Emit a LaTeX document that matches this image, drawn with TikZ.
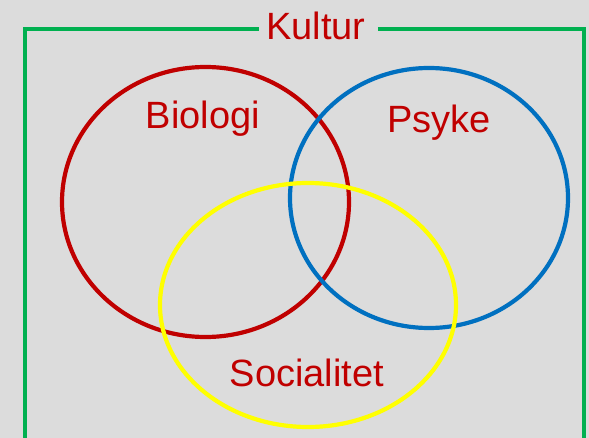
\documentclass[tikz,border=0pt]{standalone}
\usepackage{fontspec}
\setmainfont{Liberation Sans}
\usetikzlibrary{shapes.geometric}
\definecolor{bg}{HTML}{DCDCDC}
\definecolor{kred}{HTML}{C00000}
\definecolor{kblue}{HTML}{0070C0}
\definecolor{kyellow}{HTML}{FFFF00}
\definecolor{kgreen}{HTML}{00B050}
\tikzset{
  ring/.style={ellipse, draw, line width=4.2pt, inner sep=0pt, minimum width=#1},
  lbl/.style={text=kred, anchor=base, inner sep=0pt, font=\fontsize{38}{41}\selectfont},
  frame/.style={draw=kgreen, line width=3.3pt}
}
\begin{document}
\begin{tikzpicture}[x=1pt,y=-1pt]
\fill[bg] (0,0) rectangle (589,438);
\useasboundingbox (0,0) rectangle (589,438);
\node[ring=287pt, minimum height=270pt, draw=kred] (bio) at (205.5,202) {};
\node[ring=278pt, minimum height=260pt, draw=kblue] (psy) at (429,198) {};
\node[ring=296pt, minimum height=244pt, draw=kyellow] (soc) at (308,305) {};
\node[lbl] (kultur) at (316,40) {Kultur};
\node[lbl] (biologi) at (203,129) {Biologi};
\node[lbl] (psyke) at (439,133) {Psyke};
\node[lbl] (socialitet) at (307,386) {Socialitet};
\coordinate (tl) at (25,29);
\coordinate (tr) at (584,29);
\coordinate (bl) at (25,460);
\coordinate (br) at (584,460);
\draw[frame] (bl) -- (tl) -- ([xshift=-7pt]kultur.west |- tl);
\draw[frame] ([xshift=12pt]kultur.east |- tl) -- (tr) -- (br);
\end{tikzpicture}
\end{document}
